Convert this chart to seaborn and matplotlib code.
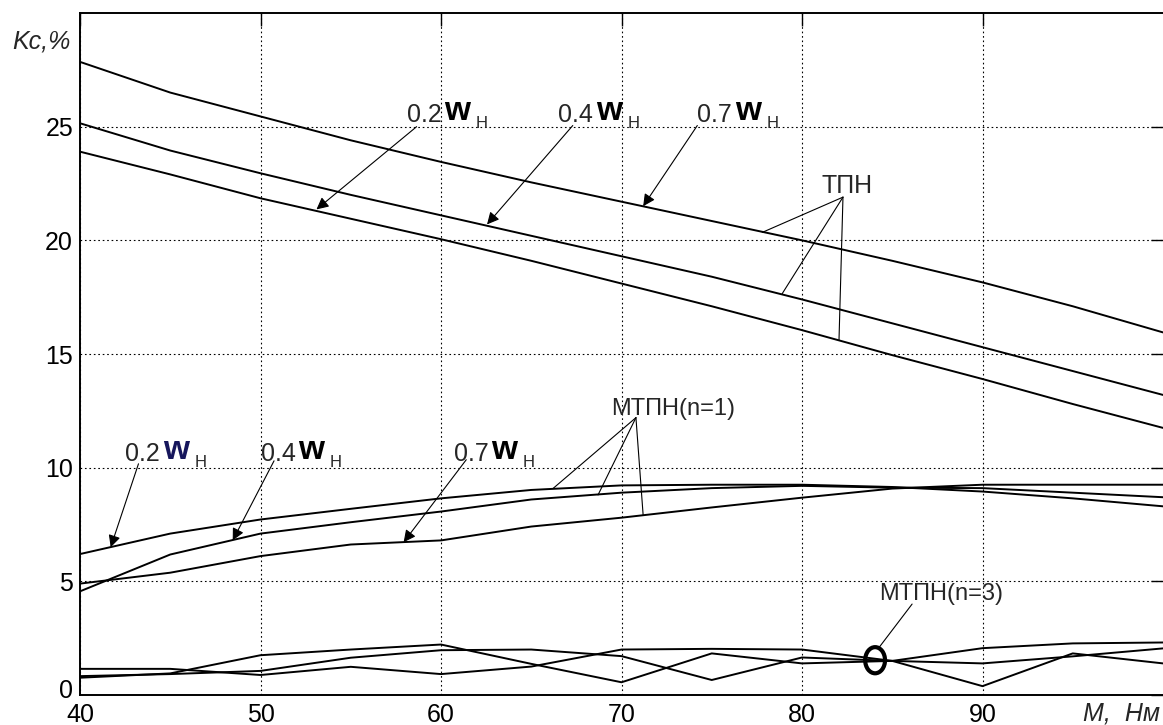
import numpy as np
import pandas as pd
import matplotlib
matplotlib.use("Agg")
import matplotlib.pyplot as plt
from matplotlib.patches import Ellipse
from matplotlib.transforms import ScaledTranslation
import seaborn as sns

# load torque, Nm
M = [40, 45, 50, 55, 60, 65, 70, 75, 80, 85, 90, 95, 100]

# TПН curves (Kc, %)
tpn_02 = [23.9, 22.9, 21.85, 20.95, 20.05, 19.1, 18.1, 17.1, 16.05, 14.95, 13.9, 12.8, 11.75]
tpn_04 = [25.15, 23.95, 22.95, 22.0, 21.1, 20.2, 19.3, 18.4, 17.4, 16.35, 15.3, 14.25, 13.2]
tpn_07 = [27.85, 26.5, 25.45, 24.4, 23.45, 22.55, 21.7, 20.85, 20.0, 19.1, 18.15, 17.1, 15.95]

# МТПН(n=1)
mtpn1_02 = [6.2, 7.1, 7.72, 8.19, 8.65, 9.02, 9.22, 9.25, 9.25, 9.15, 8.95, 8.65, 8.3]
mtpn1_04 = [4.56, 6.18, 7.1, 7.6, 8.07, 8.6, 8.9, 9.1, 9.2, 9.12, 9.1, 8.9, 8.7]
mtpn1_07 = [4.9, 5.38, 6.11, 6.62, 6.8, 7.41, 7.8, 8.25, 8.68, 9.08, 9.25, 9.25, 9.25]

# МТПН(n=3)
mtpn3_a = [0.76, 0.95, 1.75, 2.0, 2.22, 1.37, 0.56, 1.83, 1.39, 1.5, 1.39, 1.7, 2.05]
mtpn3_b = [0.83, 0.92, 1.06, 1.64, 1.97, 2.0, 1.71, 0.66, 1.65, 1.5, 2.06, 2.27, 2.31]
mtpn3_c = [1.15, 1.15, 0.88, 1.24, 0.92, 1.25, 2.0, 2.03, 2.0, 1.5, 0.39, 1.83, 1.39]

xticks = [40, 50, 60, 70, 80, 90]
yticks = [0, 5, 10, 15, 20, 25]

series = {
    "tpn_02": tpn_02, "tpn_04": tpn_04, "tpn_07": tpn_07,
    "mtpn1_02": mtpn1_02, "mtpn1_04": mtpn1_04, "mtpn1_07": mtpn1_07,
    "mtpn3_a": mtpn3_a, "mtpn3_b": mtpn3_b, "mtpn3_c": mtpn3_c,
}
df = pd.concat(
    [pd.DataFrame({"M": M, "Kc": v, "curve": k}) for k, v in series.items()],
    ignore_index=True,
)

sns.set_style("white")
plt.rcParams["font.family"] = ["Liberation Sans", "DejaVu Sans"]

fig = plt.figure(figsize=(11.63, 7.25), dpi=100)
ax = fig.add_axes([80 / 1163, 30 / 725, 1083 / 1163, 682 / 725])

sns.lineplot(data=df, x="M", y="Kc", units="curve", estimator=None,
             color="black", linewidth=1.4, ax=ax, legend=False)

ax.set_xlim(40, 100)
ax.set_ylim(0, 30)
ax.set_xticks(xticks)
ax.set_yticks(yticks)
ax.set_xlabel("")
ax.set_ylabel("")
ax.tick_params(direction="in", length=9, width=1, top=True, right=True,
               labelsize=18, colors="black", pad=5)
ax.tick_params(axis="x", pad=6)
ax.grid(True, color="black", linestyle=(0, (1.5, 2.5)), linewidth=0.8)
for side in ["left", "bottom", "top"]:
    ax.spines[side].set_color("black")
    ax.spines[side].set_linewidth(1.4)
ax.spines["right"].set_visible(False)

# lift the "0" label a little so it sits above the "40"
zero = ax.get_yticklabels()[0]
zero.set_transform(zero.get_transform() + ScaledTranslation(0, 5 / 72, fig.dpi_scale_trans))

fig.text(12 / 1163, 1 - 42 / 725, "Kc,%", fontsize=18, style="italic",
         ha="left", va="center")
fig.text(1160 / 1163, 1 - 714 / 725, "M,  Нм", fontsize=18, style="italic",
         ha="right", va="center")

arrow = dict(arrowstyle="-|>", color="black", lw=0.8, mutation_scale=18,
             shrinkA=0, shrinkB=0)
plain = dict(arrowstyle="-", color="black", lw=0.8, shrinkA=0, shrinkB=0)


def omega_label(x, y, k, wcolor="black"):
    t1 = ax.text(x, y, k, fontsize=18, ha="left", va="baseline")
    t2 = ax.annotate("w", xy=(1, 0), xycoords=t1, xytext=(2, 0),
                     textcoords="offset points", fontsize=24,
                     fontweight="bold", color=wcolor, ha="left", va="bottom")
    ax.annotate("Н", xy=(1, 0), xycoords=t2, xytext=(4, -3),
                textcoords="offset points", fontsize=12, ha="left",
                va="bottom")


# TПН labels
omega_label(58.1, 25.2, "0.2")
omega_label(66.5, 25.2, "0.4")
omega_label(74.2, 25.2, "0.7")
ax.annotate("", xy=(53.1, 21.36), xytext=(58.65, 25.0), arrowprops=arrow)
ax.annotate("", xy=(62.55, 20.7), xytext=(67.3, 25.05), arrowprops=arrow)
ax.annotate("", xy=(71.2, 21.5), xytext=(74.2, 25.05), arrowprops=arrow)

ax.text(82.5, 22.4, "ТПН", fontsize=18, ha="center", va="center")
for px, py in [(77.8, 20.35), (78.9, 17.65), (82.05, 15.62)]:
    ax.annotate("", xy=(px, py), xytext=(82.27, 21.9), arrowprops=plain)

# МТПН(n=1) labels
omega_label(42.5, 10.3, "0.2", wcolor="#16165c")
omega_label(50.0, 10.3, "0.4")
omega_label(60.7, 10.3, "0.7")
ax.annotate("", xy=(41.7, 6.5), xytext=(43.24, 10.17), arrowprops=arrow)
ax.annotate("", xy=(48.46, 6.8), xytext=(50.75, 10.3), arrowprops=arrow)
ax.annotate("", xy=(57.93, 6.72), xytext=(61.4, 10.35), arrowprops=arrow)

ax.text(69.4, 12.6, "МТПН(n=1)", fontsize=17, ha="left", va="center")
for px, py in [(66.2, 9.08), (68.7, 8.8), (71.2, 7.9)]:
    ax.annotate("", xy=(px, py), xytext=(70.8, 12.2), arrowprops=plain)

# МТПН(n=3) label
ax.text(84.3, 4.45, "МТПН(n=3)", fontsize=17, ha="left", va="center")
ax.annotate("", xy=(84.23, 2.05), xytext=(86.1, 4.0), arrowprops=plain)
ax.add_patch(Ellipse((84.05, 1.53), width=1.1, height=1.15, fill=False,
                     edgecolor="black", linewidth=3))

fig.savefig("out.png", dpi=100)
